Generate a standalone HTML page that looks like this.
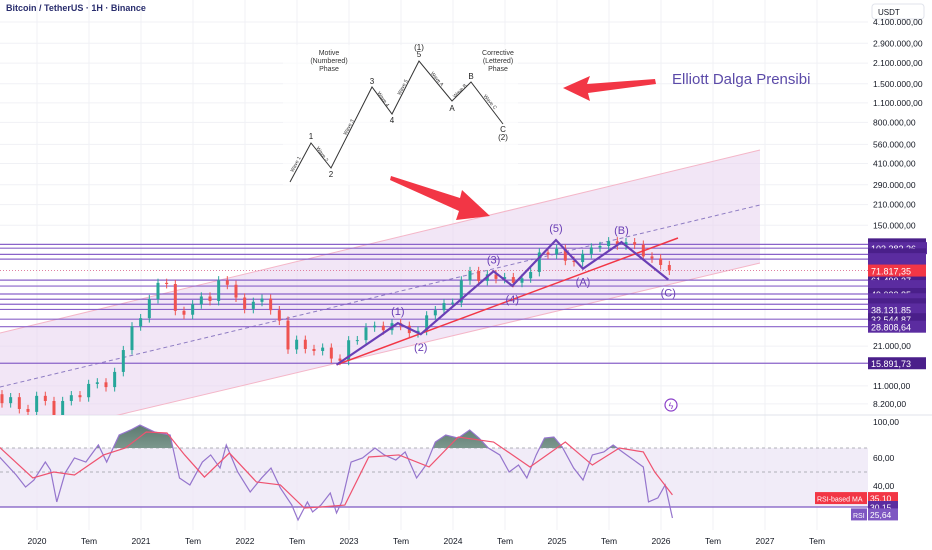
<!DOCTYPE html>
<html><head><meta charset="utf-8">
<style>
body{margin:0;background:#fff;font-family:"Liberation Sans",sans-serif;}
svg{display:block}
</style></head>
<body>
<svg id="c" width="932" height="550" viewBox="0 0 932 550" xmlns="http://www.w3.org/2000/svg">
<defs>
<clipPath id="pricePane"><rect x="0" y="0" width="868" height="415"/></clipPath>
<clipPath id="obClip"><rect x="0" y="415" width="868" height="33"/></clipPath>
<linearGradient id="obGrad" x1="0" y1="0" x2="0" y2="1"><stop offset="0" stop-color="#5d7a70"/><stop offset="1" stop-color="#d9f0e6"/></linearGradient>
</defs>
<g id="grid"></g>
<g id="channel" clip-path="url(#pricePane)"></g>
<g id="hlines"></g>
<g id="candles" clip-path="url(#pricePane)"></g>
<g id="waves"></g>
<g id="diagram"></g>
<g id="rsi"></g>
<g id="axes"></g>
<text x="6" y="11" font-size="9" font-weight="bold" fill="#2a2e6e">Bitcoin / TetherUS · 1H · Binance</text>
</svg>
<script>
// ---- data ----
const priceTicks=[4100000,2900000,2100000,1500000,1100000,800000,560000,410000,290000,210000,150000,21000,11000,8200];
const priceTickLabels=["4.100.000,00","2.900.000,00","2.100.000,00","1.500.000,00","1.100.000,00","800.000,00","560.000,00","410.000,00","290.000,00","210.000,00","150.000,00","21.000,00","11.000,00","8.200,00"];
const levelPrices=[110000,103382.26,93451,86500,61490.37,55800,49033.85,45000,41500,38131.85,32544.87,28808.64,15891.73];
const levelLabels=[null,"103.382,26",null,null,"61.490,37",null,"49.033,85",null,null,"38.131,85","32.544,87","28.808,64","15.891,73"];
const lastPrice=71817.35;
const timeTicks=[2020,2020.5,2021,2021.5,2022,2022.5,2023,2023.5,2024,2024.5,2025,2025.5,2026,2026.5,2027,2027.5];
const timeTickLabels=["2020","Tem","2021","Tem","2022","Tem","2023","Tem","2024","Tem","2025","Tem","2026","Tem","2027","Tem"];
const closeStart=2019.58;
const closes=[9600,8300,9150,7550,7200,
9350,8600,6400,8600,9450,9140,11350,11650,10780,13800,19700,29000,
33100,45200,58800,57700,37300,35000,41500,47100,43800,61300,57000,46300,
38500,43200,45500,37700,31800,19900,23300,20050,19400,20500,17150,16550,
23100,23150,28500,29250,27200,30500,29250,25950,26950,34650,37700,42300,
42600,61200,71300,60700,67500,62700,64600,58900,63300,70200,96400,93400,
102400,84300,82500,94200,104600,107100,115700,108200,114000,109500,90400,87500,78600,71800];
const wavePts=[[2022.88,15500],[2023.47,30500],[2023.69,25500],[2024.39,71000],[2024.57,56000],[2024.99,118000],[2025.25,74000],[2025.62,114000],[2026.07,62000]];
const waveLabels=["","(1)","(2)","(3)","(4)","(5)","(A)","(B)","(C)"];
const rsiTimes=[2019.64,2019.8,2019.89,2019.97,2020.08,2020.13,2020.19,2020.27,2020.36,2020.47,2020.59,2020.67,2020.79,2020.9,2020.99,2021.13,2021.28,2021.37,2021.47,2021.59,2021.67,2021.76,2021.82,2021.93,2022.05,2022.16,2022.25,2022.34,2022.45,2022.51,2022.6,2022.65,2022.73,2022.82,2022.88,2022.93,2023.02,2023.13,2023.25,2023.34,2023.45,2023.54,2023.65,2023.74,2023.83,2023.93,2024.05,2024.16,2024.25,2024.34,2024.45,2024.54,2024.63,2024.71,2024.8,2024.88,2024.97,2025.05,2025.16,2025.25,2025.34,2025.45,2025.54,2025.63,2025.71,2025.83,2025.88,2025.97,2026.04,2026.11];
const rsiValues=[62.5,48.3,41.4,45.4,58.3,51.7,32.9,49.4,61.7,58.3,73.5,58.3,85,90.8,96.5,88.5,85,46.6,42.6,58.3,64.2,53.3,73.5,50,38.6,46.6,53.3,40.9,31.1,22.4,32.9,27.1,31.1,38,26.5,32.9,58.3,61.7,70,64.2,60,66.7,46.6,55.8,76.9,85,81.5,90.8,81.5,70,64.2,50,55.8,46.6,64.2,81.5,82.7,71.2,53.3,45.4,64.2,66.7,73.5,66.7,61.7,54.2,32.9,35.2,42.6,23.5];
const maTimes=[2019.64,2019.96,2020.16,2020.36,2020.64,2020.85,2021.05,2021.25,2021.42,2021.61,2021.85,2022.11,2022.34,2022.57,2022.73,2022.96,2023.19,2023.48,2023.77,2024.05,2024.39,2024.74,2025.08,2025.34,2025.6,2025.83,2025.94,2026.11];
const maValues=[70.8,46.6,50,48.3,64.2,70,88.5,87.3,64.2,47.1,65.8,44.3,42.6,29.4,30,31.1,62.5,64.2,54.2,82.7,76.9,54.2,76.9,55.8,70,66.7,50,36.9];
const rsiTicks=[100,60,40];
const rsiTickLabels=["100,00","60,00","40,00"];

// ---- scales ----
const NS="http://www.w3.org/2000/svg";
function X(t){return 37+(t-2020)*104;}
function Y(p){return 22+(Math.log10(4100000)-Math.log10(p))*141.5;}
function RY(v){
 if(v>=70) return 422+(100-v)/30*26;
 if(v>=50) return 448+(70-v)/20*24;
 if(v>=30) return 472+(50-v)/20*35;
 return 507+(30-v)/10*17;
}
function mk(tag,attrs,parent,text){const e=document.createElementNS(NS,tag);for(const k in attrs)e.setAttribute(k,attrs[k]);if(text!=null)e.textContent=text;parent.appendChild(e);return e;}
const G=id=>document.getElementById(id);

// grid
const grid=G('grid');
timeTicks.forEach(t=>{const l=mk('line',{x1:X(t),x2:X(t),y1:0,y2:530,stroke:'#f0f1f5','stroke-width':1},grid);

});
priceTicks.forEach(p=>{const l=mk('line',{x1:0,x2:868,y1:Y(p),y2:Y(p),stroke:'#f0f1f5','stroke-width':1},grid);

});
mk('line',{x1:0,x2:932,y1:415,y2:415,stroke:'#e0e3eb'},grid);

// channel
const ch=G('channel');
const cp=mk('polygon',{points:"0,333 760,150 760,263 0,443",fill:'#e9d6f0','fill-opacity':0.6},ch);


mk('line',{x1:0,y1:333,x2:760,y2:150,stroke:'#f4b6c8','stroke-width':1},ch);
mk('line',{x1:0,y1:443,x2:760,y2:263,stroke:'#f4b6c8','stroke-width':1},ch);
const mid=mk('line',{x1:0,y1:387,x2:760,y2:205,stroke:'#8e7cc3','stroke-width':1,'stroke-dasharray':'4,3'},ch);



// horizontal levels
const hl=G('hlines');
levelPrices.forEach((p,i)=>{const l=mk('line',{x1:0,x2:868,y1:Y(p),y2:Y(p),stroke:'#8a63c9','stroke-width':1.2},hl);

});
const lp=mk('line',{x1:0,x2:868,y1:Y(lastPrice),y2:Y(lastPrice),stroke:'#e080a0','stroke-width':1,'stroke-dasharray':'1,2'},hl);



// candles
const cg=G('candles');
closes.forEach((c,i)=>{
 const o=i===0?c*0.97:closes[i-1];
 const t=closeStart+i/12;
 const up=c>=o;const col=up?'#26a69a':'#ef5350';
 const hi=Math.max(o,c)*1.07, lo=Math.min(o,c)*0.93;
 const x=X(t);
 const w=mk('line',{x1:x,x2:x,y1:Y(hi),y2:Y(lo),stroke:col,'stroke-width':1},cg);
 
 
 const r=mk('rect',{x:x-1.5,y:Math.min(Y(o),Y(c)),width:3,height:Math.max(1,Math.abs(Y(o)-Y(c))),fill:col},cg);
 
 
});

// waves
const wg=G('waves');
const tl=mk('line',{x1:X(2022.88),y1:Y(15500),x2:678,y2:238,stroke:'#f23645','stroke-width':1.5},wg);


const zz=mk('polyline',{points:wavePts.map(p=>X(p[0])+','+Y(p[1])).join(' '),fill:'none',stroke:'#6a3fb5','stroke-width':2.2},wg);


wavePts.forEach((p,i)=>{if(!waveLabels[i])return;
 const peak=(i%2===1&&i<6)||i===7;
 const t=mk('text',{x:X(p[0]),y:Y(p[1])+(peak?-8:17),'font-size':11,fill:'#6a3fb5','text-anchor':'middle'},wg,waveLabels[i]);
 
 });
const li=mk('circle',{cx:671,cy:405,r:6,fill:'#fff',stroke:'#8a3fc9','stroke-width':1.2},wg);


mk('text',{x:671,y:409,'font-size':9,fill:'#8a3fc9','text-anchor':'middle'},wg,'ϟ');

// diagram
const dg=G('diagram');
const bg=mk('rect',{x:283,y:45,width:235,height:140,fill:'#fff','fill-opacity':0.6},dg);


const dpts=[[290,182],[311,143],[331,168],[372,87],[392,114],[419,61],[452,101],[471,82],[503,124]];
mk('polyline',{points:dpts.map(p=>p.join(',')).join(' '),fill:'none',stroke:'#333','stroke-width':1},dg);
const dl=[["1",311,139],["2",331,177],["3",372,84],["4",392,123],["5",419,57],["A",452,111],["B",471,79],["C",503,132]];
dl.forEach(d=>mk('text',{x:d[1],y:d[2],'font-size':8,fill:'#222','text-anchor':'middle'},dg,d[0]));
mk('text',{x:419,y:50,'font-size':8,fill:'#222','text-anchor':'middle'},dg,'(1)');
mk('text',{x:503,y:140,'font-size':8,fill:'#222','text-anchor':'middle'},dg,'(2)');
[["Motive",55],["(Numbered)",63],["Phase",71]].forEach(s=>mk('text',{x:329,y:s[1],'font-size':7,fill:'#333','text-anchor':'middle'},dg,s[0]));
[["Corrective",55],["(Lettered)",63],["Phase",71]].forEach(s=>mk('text',{x:498,y:s[1],'font-size':7,fill:'#333','text-anchor':'middle'},dg,s[0]));
const wl=[["Wave 1",297,165,-62],["Wave 2",321,155,55],["Wave 3",350,128,-62],["Wave 4",382,100,55],["Wave 5",404,88,-62],["Wave A",436,80,50],["Wave B",461,92,-45],["Wave C",489,103,50]];
wl.forEach(w=>mk('text',{x:w[1],y:w[2],'font-size':5,fill:'#333','text-anchor':'middle',transform:`rotate(${w[3]} ${w[1]} ${w[2]})`},dg,w[0]));
const a1=mk('polygon',{points:"563,88 590,76 587,84 655,79 656,84 588,93 590,101",fill:'#f23645'},dg);


const a2=mk('polygon',{points:"391,176 460,198 462,190 490,216 456,220 459,211 390,180",fill:'#f23645'},dg);


const et=mk('text',{x:672,y:84,'font-size':15,fill:'#5b4aa8'},dg,'Elliott Dalga Prensibi');



// RSI
const rg=G('rsi');
const band=mk('rect',{x:0,y:RY(70),width:868,height:RY(30)-RY(70),fill:'#ede7f6','fill-opacity':0.8},rg);


[70,50].forEach(v=>mk('line',{x1:0,x2:868,y1:RY(v),y2:RY(v),stroke:'#b0b0b8','stroke-dasharray':'3,3'},rg));
mk('line',{x1:0,x2:868,y1:RY(30),y2:RY(30),stroke:'#7e57c2','stroke-width':1.2},rg);
const rpts=rsiTimes.map((t,i)=>X(t)+','+RY(rsiValues[i]));
const ob=mk('polygon',{points:X(rsiTimes[0])+','+RY(70)+' '+rpts.join(' ')+' '+X(rsiTimes[rsiTimes.length-1])+','+RY(70),fill:'url(#obGrad)','clip-path':'url(#obClip)'},rg);


const rl=mk('polyline',{points:rpts.join(' '),fill:'none',stroke:'#9575cd','stroke-width':1.2},rg);


const ml=mk('polyline',{points:maTimes.map((t,i)=>X(t)+','+RY(maValues[i])).join(' '),fill:'none',stroke:'#ef5370','stroke-width':1.2},rg);



// axes
const ax=G('axes');
const ub=mk('rect',{x:872,y:4,width:52,height:15,rx:3,fill:'#fff',stroke:'#e0e3eb'},ax);


mk('text',{x:878,y:15,'font-size':8,fill:'#131722'},ax,'USDT');
priceTicks.forEach((p,i)=>{const t=mk('text',{x:873,y:Y(p)+3,'font-size':8.5,fill:'#131722'},ax,priceTickLabels[i]);

});
mk('text',{x:873,y:Y(110000)+3,'font-size':8.5,fill:'#131722'},ax,'110.000,00');
levelPrices.forEach((p,i)=>{
 const y=Y(p);
 const b=mk('rect',{x:868,y:y-6,width:i===1?59:58,height:12,fill:i%2?'#5b2ca0':'#4a1f8a'},ax);
 
 
 if(levelLabels[i]) mk('text',{x:871,y:y+4,'font-size':9,fill:'#fff'},ax,levelLabels[i]);
});
const rb=mk('rect',{x:868,y:Y(lastPrice)-6,width:58,height:12,fill:'#f23645'},ax);


mk('text',{x:871,y:Y(lastPrice)+4,'font-size':9,fill:'#fff'},ax,'71.817,35');
rsiTicks.forEach((v,i)=>{const y=[422,458,486][i];
 const t=mk('text',{x:873,y:y+3,'font-size':8.5,fill:'#131722'},ax,rsiTickLabels[i]);
 
 });
function badge(x,y,w,col,txt,name,fs){const r=mk('rect',{x:x,y:y-6,width:w,height:12,fill:col},ax);
 
 
 mk('text',{x:x+2,y:y+3.5,'font-size':fs||8.5,fill:'#fff'},ax,txt);}
badge(868,RY(35.10),30,'#f23645','35,10','rsi-ma-value');
badge(815,RY(35.10),52,'#f23645','RSI-based MA','rsi-ma-legend',7);
badge(868,507,30,'#5b2ca0','30,15','rsi-level-value');
badge(868,RY(25.64),30,'#7e57c2','25,64','rsi-value');
badge(851,RY(25.64),16,'#7e57c2','RSI','rsi-legend',7);
timeTicks.forEach((t,i)=>{const e=mk('text',{x:X(t),y:544,'font-size':8.5,fill:'#131722','text-anchor':'middle'},ax,timeTickLabels[i]);
 
 });
</script>
</body></html>
